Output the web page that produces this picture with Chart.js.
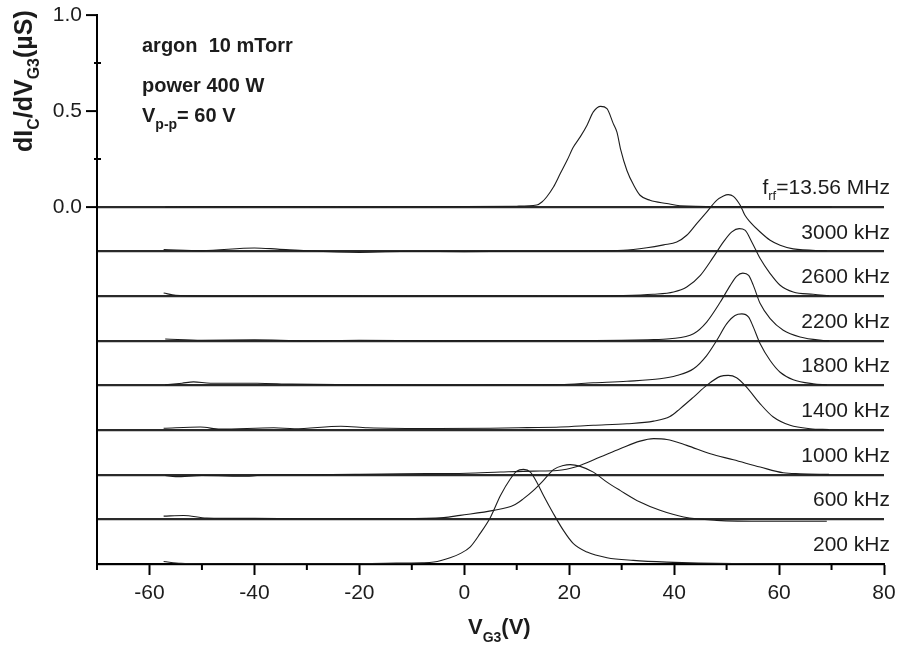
<!DOCTYPE html>
<html>
<head>
<meta charset="utf-8">
<script src="https://cdn.jsdelivr.net/npm/chart.js@4/dist/chart.umd.min.js"></script>
<style>
html, body { margin: 0; padding: 0; background: #fff; }
</style>
</head>
<body>
<canvas id="spectra" width="897" height="650"></canvas>
<script>
// trace names, top to bottom
const freqLabels = ['13.56 MHz', '3000 kHz', '2600 kHz', '2200 kHz', '1800 kHz',
                    '1400 kHz', '1000 kHz', '600 kHz', '200 kHz'];
// vertical shift between stacked traces (uS)
const traceShift = 0.2325;
const yLabelTicks = [1.0, 0.5, 0.0];

// [V_G3 (V), dIc/dV_G3 (uS)], each above its own baseline
const f13560 = [[-57,0],[-40,0.002],[-20,0],[0,0.002],[10,0.004],[13.8,0.01],[14.8,0.026],[15.7,0.052],
  [17.0,0.104],[18.3,0.174],[19.6,0.243],[20.8,0.312],[22.1,0.365],[23.4,0.426],[24.6,0.495],[26.0,0.524],
  [27.2,0.512],[28.4,0.434],[29.1,0.39],[29.8,0.30],[31.0,0.19],[32.3,0.113],[33.5,0.061],[35.4,0.035],
  [38.6,0.018],[41.1,0.006],[50,0.002],[60,0],[70,0]];
const f3000 = [[-57.3,0.01],[-50,0.005],[-40,0.019],[-35.6,0.013],[-30,0.004],[-20,-0.004],[-10,0.002],
  [0,0],[10,0.002],[18,0.002],[30.3,0.007],[34.8,0.02],[38,0.035],[40.5,0.05],[42.4,0.085],[44.3,0.146],
  [46.2,0.206],[48.1,0.267],[49.4,0.29],[50.3,0.297],[51.3,0.288],[52.6,0.241],[53.5,0.189],[54.5,0.154],
  [56.4,0.102],[58.3,0.059],[60.2,0.033],[62.7,0.014],[69.1,0.004]];
const f2600 = [[-57.3,0.017],[-55,0.005],[-45,0],[-30,0.002],[-15,0],[0,0.002],[20,0],[30,0.003],
  [36,0.01],[39.9,0.022],[42.4,0.048],[45.0,0.109],[47.5,0.205],[49.4,0.283],[51.0,0.335],[52.4,0.352],
  [53.5,0.344],[54.8,0.283],[56.4,0.196],[58.3,0.118],[60.2,0.057],[62.7,0.022],[66.5,0.01],[69.5,0.003]];
const f2200 = [[-57,0.01],[-50,0.003],[-40,0.005],[-30,0],[-20,0.003],[-5,0],[10,0.002],[25,0.002],
  [35,0.006],[39.2,0.011],[43.7,0.037],[46.2,0.098],[48.8,0.202],[50.7,0.289],[51.9,0.336],[53.1,0.353],
  [54.2,0.341],[55.1,0.289],[56.4,0.194],[58.3,0.116],[60.8,0.055],[64.0,0.02],[68.4,0.002],[69.5,0]];
const f1800 = [[-57,0.003],[-53.8,0.012],[-51.6,0.019],[-48.4,0.012],[-39.5,0.012],[-33,0.007],
  [-20,0.003],[-5,0.002],[5,0.003],[12,0.004],[18.3,0.005],[24.6,0.014],[31.0,0.022],[37.3,0.035],
  [40.5,0.052],[43.7,0.087],[46.2,0.156],[48.1,0.234],[50.0,0.321],[51.6,0.365],[52.9,0.373],[54.2,0.356],
  [55.1,0.304],[56.4,0.217],[58.3,0.13],[60.2,0.069],[62.7,0.03],[66.5,0.009],[69.1,0.004]];
const f1400 = [[-57.3,0.01],[-50.3,0.016],[-46.5,0.005],[-36.3,0.012],[-32.4,0.007],[-23.5,0.02],
  [-18.4,0.012],[-5,0.008],[5,0.01],[12,0.013],[18.3,0.016],[24.6,0.025],[31.0,0.033],[36.1,0.047],
  [39.2,0.071],[41.1,0.111],[43.7,0.172],[46.2,0.233],[48.8,0.28],[50.3,0.285],[51.9,0.273],[53.8,0.224],
  [56.4,0.137],[58.9,0.068],[62.1,0.025],[65.9,0.007],[69.5,0.003]];
const f1000 = [[-57,-0.004],[-55,-0.01],[-50,-0.004],[-41,-0.008],[-38,0],[-30,0],[-20,0.002],
  [-12,0.005],[0.5,0.008],[6.9,0.014],[13.2,0.019],[17.7,0.022],[21.5,0.043],[25.9,0.092],[29.7,0.135],
  [33.5,0.175],[36.1,0.188],[38.6,0.184],[42.4,0.153],[46.9,0.109],[51.3,0.078],[56.4,0.04],[60.8,0.01],
  [64,0.005],[69.5,0.002]];
const f600 = [[-57.3,0.017],[-53.5,0.02],[-49.1,0.007],[-40,0.005],[-30,0.003],[-20,0.004],[-12,0.004],
  [-3.9,0.009],[-0.8,0.021],[5.6,0.047],[9.4,0.073],[11.3,0.108],[13.2,0.151],[15.1,0.203],[17.0,0.259],
  [18.9,0.281],[20.2,0.285],[22.1,0.276],[24.6,0.246],[27.2,0.194],[29.7,0.151],[33.5,0.09],[37.3,0.047],
  [41.8,0.012],[48.1,-0.005],[57.7,-0.01],[69.1,-0.01]];
const f200 = [[-57.3,0.013],[-54,0.003],[-45,0],[-35,0.002],[-25,0.001],[-15,0.004],[-8,0.006],
  [-5.8,0.01],[-2.7,0.033],[-0.8,0.054],[1.1,0.088],[3.0,0.158],[5.0,0.244],[6.9,0.357],[8.8,0.444],
  [10.0,0.484],[11.3,0.493],[12.6,0.479],[13.8,0.427],[15.1,0.357],[17.0,0.262],[18.9,0.175],[20.8,0.106],
  [23.4,0.062],[27.2,0.033],[32.2,0.019],[38.6,0.01],[51.3,0.002],[69.5,0]];

const traces = [f13560, f3000, f2600, f2200, f1800, f1400, f1000, f600, f200];
const baselines = freqLabels.map((_, i) => -i * traceShift);

const FAM = '"Liberation Sans", Arial, sans-serif';
const INK = '#1c1c1c';

function fnt(w, s) { return w + ' ' + s + 'px ' + FAM; }
function runWidth(ctx, parts) {
  let w = 0;
  parts.forEach(p => { ctx.font = fnt(p[2], p[1]); w += ctx.measureText(p[0]).width; });
  return w;
}
function drawRun(ctx, x, y, parts) {
  parts.forEach(p => {
    ctx.font = fnt(p[2], p[1]);
    ctx.fillText(p[0], x, y + p[3]);
    x += ctx.measureText(p[0]).width;
  });
}

const textPlugin = {
  id: 'texts',
  afterDraw(chart) {
    const ctx = chart.ctx, xs = chart.scales.x, ys = chart.scales.y, area = chart.chartArea;
    ctx.save();
    ctx.fillStyle = INK;
    ctx.strokeStyle = '#000';
    ctx.textBaseline = 'alphabetic';
    ctx.textAlign = 'left';

    // minor ticks
    ctx.lineWidth = 2;
    ctx.beginPath();
    for (let v = -70; v <= 80; v += 20) {
      const px = xs.getPixelForValue(v);
      ctx.moveTo(px, area.bottom); ctx.lineTo(px, area.bottom + 6);
    }
    [0.25, 0.75].forEach(v => {
      const py = ys.getPixelForValue(v);
      ctx.moveTo(area.left - 3, py); ctx.lineTo(area.left + 4, py);
    });
    ctx.stroke();

    // trace labels
    baselines.forEach((b, i) => {
      const parts = i === 0
        ? [['f', 21, 'normal', 0], ['rf', 13, 'normal', 6], ['=' + freqLabels[0], 21, 'normal', 0]]
        : [[freqLabels[i], 21, 'normal', 0]];
      const w = runWidth(ctx, parts);
      drawRun(ctx, area.right + 6 - w, ys.getPixelForValue(b) - 13, parts);
    });

    // conditions
    drawRun(ctx, 142, 52, [['argon  10 mTorr', 20, 'bold', 0]]);
    drawRun(ctx, 142, 92, [['power 400 W', 20, 'bold', 0]]);
    drawRun(ctx, 142, 122, [['V', 20, 'bold', 0], ['p-p', 14, 'bold', 7], ['= 60 V', 20, 'bold', 0]]);

    // x title
    drawRun(ctx, 468, 634, [['V', 22, 'bold', 0], ['G3', 14, 'bold', 8], ['(V)', 22, 'bold', 0]]);

    // y title
    ctx.translate(32, 152);
    ctx.rotate(-Math.PI / 2);
    drawRun(ctx, 0, 0, [['dI', 25, 'bold', 0], ['C', 16, 'bold', 7], ['/dV', 25, 'bold', 0],
                        ['G3', 16, 'bold', 7], ['(\u00B5S)', 25, 'bold', 0]]);
    ctx.restore();
  }
};

new Chart(document.getElementById('spectra'), {
  type: 'line',
  data: {
    datasets: traces.map((pts, i) => ({
      label: freqLabels[i],
      data: pts.map(p => ({ x: p[0], y: p[1] + baselines[i] })),
      borderColor: INK,
      borderWidth: 1.1,
      pointRadius: 0,
      fill: false,
      cubicInterpolationMode: 'monotone'
    }))
  },
  options: {
    responsive: false,
    animation: false,
    devicePixelRatio: 1,
    layout: { padding: { top: 15, right: 13, left: 0, bottom: 0 } },
    plugins: { legend: { display: false }, tooltip: { enabled: false } },
    scales: {
      x: {
        type: 'linear', min: -70, max: 80,
        afterFit: s => { s.height = 86; s.paddingLeft = 0; s.paddingRight = 0; },
        border: { display: true, color: '#000', width: 2 },
        grid: {
          drawOnChartArea: false, drawTicks: true, tickLength: 11, tickWidth: 2,
          tickColor: c => (Math.abs(c.tick.value) % 20 === 0 ? '#000' : 'rgba(0,0,0,0)')
        },
        ticks: {
          stepSize: 10, autoSkip: false, maxRotation: 0, padding: 6, color: INK,
          font: { family: FAM, size: 21 },
          callback: v => (Math.abs(v) % 20 === 0 ? v : '')
        }
      },
      y: {
        type: 'linear', min: baselines[baselines.length - 1], max: 1.0,
        afterFit: s => { s.width = 97; s.paddingTop = 0; s.paddingBottom = 0; },
        afterBuildTicks: s => {
          s.ticks = yLabelTicks.concat(baselines.slice(1)).map(v => ({ value: v }));
        },
        border: { display: true, color: '#000', width: 2 },
        grid: {
          lineWidth: 2.2, tickLength: 11, tickWidth: 2, drawTicks: true,
          color: c => (c.tick && c.tick.value <= 0.001 ? '#2a2a2a' : 'rgba(0,0,0,0)'),
          tickColor: c => (c.tick && c.tick.value >= -0.001 ? '#000' : 'rgba(0,0,0,0)')
        },
        ticks: {
          autoSkip: false, padding: 4, color: INK,
          font: { family: FAM, size: 21 },
          callback: v => (v >= -0.001 ? v.toFixed(1) : '')
        }
      }
    }
  },
  plugins: [textPlugin]
});
</script>
</body>
</html>
